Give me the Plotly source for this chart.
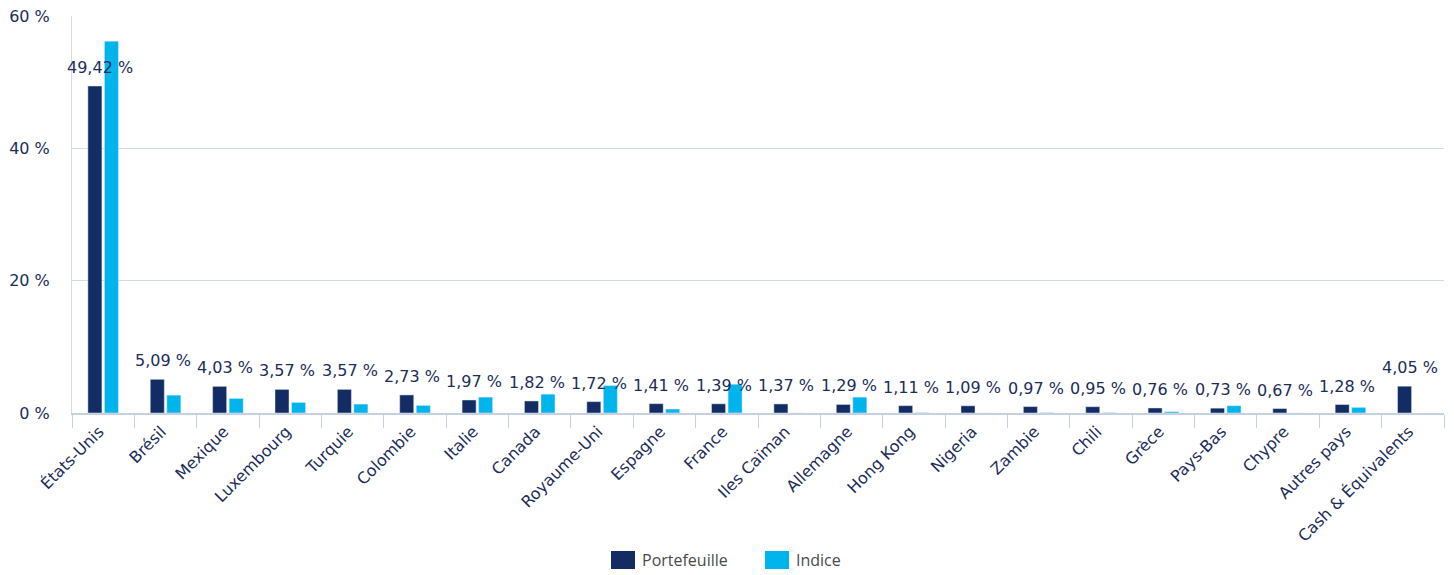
import plotly.graph_objects as go

categories = ["États-Unis", "Brésil", "Mexique", "Luxembourg", "Turquie", "Colombie",
              "Italie", "Canada", "Royaume-Uni", "Espagne", "France", "Iles Caïman",
              "Allemagne", "Hong Kong", "Nigeria", "Zambie", "Chili", "Grèce",
              "Pays-Bas", "Chypre", "Autres pays", "Cash & Équivalents"]
portefeuille = [49.42, 5.09, 4.03, 3.57, 3.57, 2.73, 1.97, 1.82, 1.72, 1.41, 1.39, 1.37,
                1.29, 1.11, 1.09, 0.97, 0.95, 0.76, 0.73, 0.67, 1.28, 4.05]
indice = [56.2, 2.7, 2.2, 1.6, 1.35, 1.15, 2.4, 2.85, 4.15, 0.6, 4.35, 0.0,
          2.4, 0.05, 0.0, 0.05, 0.05, 0.2, 1.1, 0.0, 0.85, None]
y_ticks = [0, 20, 40, 60]

NAVY = "#132c64"
CYAN = "#00b5eb"
TEXT = "#1c2d5a"
GRID = "#d3dbe7"
FONT = "DejaVu Sans"

# page has an 8px body margin
OFF = 8
W, H = 1454 - OFF, 575 - OFF
L, T = 72 - OFF, 16 - OFF
R = W - (1444 - OFF)
B = H - (413 - OFF)
pw = W - L - R
ph = H - T - B

fig = go.Figure()
fig.add_trace(go.Bar(x=categories, y=portefeuille, name="Portefeuille",
                     marker=dict(color=NAVY), showlegend=False))
fig.add_trace(go.Bar(x=categories, y=indice, name="Indice",
                     marker=dict(color=CYAN), showlegend=False))

for c, v in zip(categories, portefeuille):
    fig.add_annotation(x=c, y=v, text=f"{v:.2f} %".replace(".", ","),
                       showarrow=False, yanchor="bottom", yshift=7, xshift=-3,
                       font=dict(family=FONT, size=16, color=TEXT))

# custom legend (page pixel positions)
legend_items = [("Portefeuille", NAVY, 611), ("Indice", CYAN, 765)]
base = 413
for name, col, px in legend_items:
    fig.add_shape(type="rect", xref="paper", yref="paper",
                  x0=(px - 72) / pw, x1=(px + 24 - 72) / pw,
                  y0=-(551 - base) / ph, y1=-(569 - base) / ph,
                  fillcolor=col, line=dict(width=0))
    fig.add_annotation(xref="paper", yref="paper", x=(px + 29 - 72) / pw,
                       y=-(560 - base) / ph, text=name, showarrow=False,
                       xanchor="left", yanchor="middle",
                       font=dict(family="Open Sans", size=16, color="#4a4a4a"))

fig.update_layout(
    width=W, height=H,
    margin=dict(l=L, r=R, t=T, b=B, autoexpand=False),
    paper_bgcolor="white", plot_bgcolor="white",
    barmode="group", bargap=0.47, bargroupgap=0.15,
    showlegend=False,
    font=dict(family=FONT, size=16, color=TEXT),
)
fig.update_xaxes(
    automargin=False, ticklabeloverflow="allow",
    range=[-0.5, len(categories) - 0.5],
    tickangle=-45, tickfont=dict(family=FONT, size=16, color=TEXT),
    showline=True, linecolor="#c5d0e2", linewidth=2,
    ticks="outside", tickson="boundaries", ticklen=13, tickcolor="#c5d0e2",
    ticklabelstandoff=1, ticklabelshift=-4,
    showgrid=False,
)
fig.update_yaxes(
    automargin=False, ticklabeloverflow="allow",
    range=[0, 60], tickvals=y_ticks, ticktext=[f"{t} %" for t in y_ticks],
    tickfont=dict(family=FONT, size=16, color=TEXT),
    showgrid=True, gridcolor=GRID, gridwidth=1,
    showline=True, linecolor=GRID, zeroline=False,
    ticklabelstandoff=18,
)

fig.write_html("out.html")
